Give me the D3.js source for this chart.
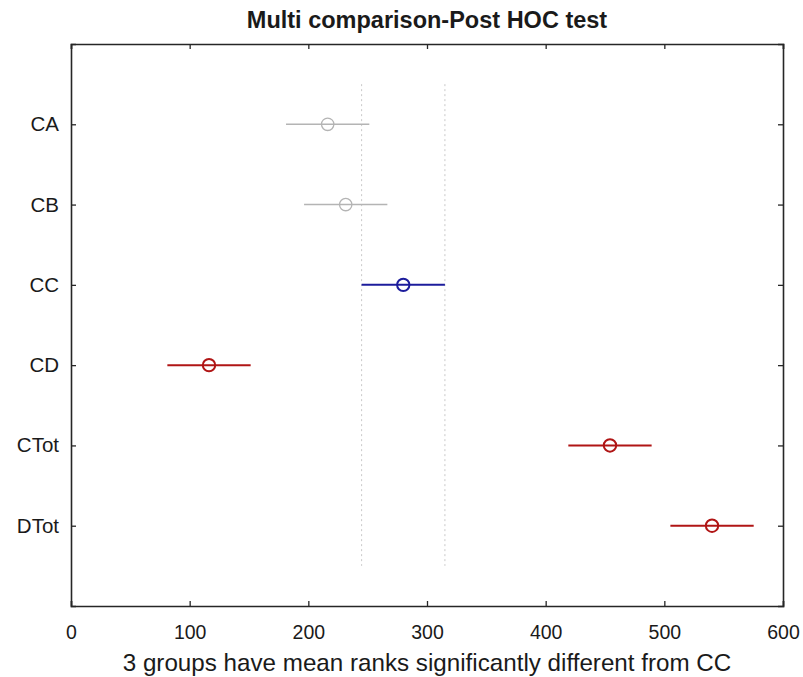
<!DOCTYPE html>
<html>
<head>
<meta charset="utf-8">
<script src="https://cdn.jsdelivr.net/npm/d3@7"></script>
<style>
  html, body { margin: 0; padding: 0; background: #fff; }
  svg text { font-family: "Liberation Sans", Arial, sans-serif; fill: #1a1a1a; }
</style>
</head>
<body>
<div id="chart"></div>
<script>
/* Multi comparison - post hoc test (mean ranks with comparison intervals) */

// groups, top to bottom
const groups   = ['CA', 'CB', 'CC', 'CD', 'CTot', 'DTot'];
// mean ranks
const means    = [216.3, 231.5, 280.0, 116.3, 454.2, 540.2];
// half width of each comparison interval
const halfWidths = [35.1, 35.1, 35.1, 35.1, 35.1, 35.1];
// status vs the selected group (CC)
const status   = ['same', 'same', 'selected', 'diff', 'diff', 'diff'];
const xTicks   = [0, 100, 200, 300, 400, 500, 600];

const COLORS = {
  same     : '#b4b4b4',
  selected : '#1c1c9c',
  diff     : '#b01515',
  axis     : '#262626',
  guide    : '#c8c8c8'
};

const W = 803, H = 677;
const margin = {top: 44, right: 20, bottom: 71, left: 71};
const width  = W - margin.left - margin.right;
const height = H - margin.top - margin.bottom;

const svg = d3.select('#chart').append('svg')
  .attr('width', W).attr('height', H);

const g = svg.append('g')
  .attr('transform', `translate(${margin.left},${margin.top})`);

const x = d3.scaleLinear().domain([0, 600]).range([0, width]);
// group i sits at value n - i, domain [0, n + 1]
const n = groups.length;
const y = d3.scaleLinear().domain([0, n + 1]).range([height, 0]);
const yPos = i => y(n - i);

// dashed guides = interval of the selected group
const sel = status.indexOf('selected');
[means[sel] - halfWidths[sel], means[sel] + halfWidths[sel]].forEach(v => {
  g.append('line')
    .attr('x1', x(v)).attr('x2', x(v))
    .attr('y1', y(n + 0.5)).attr('y2', y(0.5))
    .attr('stroke', COLORS.guide)
    .attr('stroke-width', 1)
    .attr('stroke-dasharray', '2,3');
});

// intervals + circles
const rows = groups.map((d, i) => ({
  name: d, mean: means[i], hw: halfWidths[i], status: status[i], i: i
}));

g.selectAll('.ci').data(rows).join('line')
  .attr('class', 'ci')
  .attr('x1', d => x(d.mean - d.hw)).attr('x2', d => x(d.mean + d.hw))
  .attr('y1', d => yPos(d.i)).attr('y2', d => yPos(d.i))
  .attr('stroke', d => COLORS[d.status])
  .attr('stroke-width', d => d.status === 'same' ? 1.5 : 2);

g.selectAll('.mk').data(rows).join('circle')
  .attr('class', 'mk')
  .attr('cx', d => x(d.mean)).attr('cy', d => yPos(d.i))
  .attr('r', 6.2)
  .attr('fill', 'none')
  .attr('stroke', d => COLORS[d.status])
  .attr('stroke-width', d => d.status === 'same' ? 1.3 : 2);

// axes: box with inward ticks on every side
const tickLen = 5;
g.append('g')
  .attr('transform', `translate(0,${height})`)
  .call(d3.axisBottom(x).tickValues(xTicks).tickSize(-tickLen).tickPadding(19))
  .call(a => a.selectAll('text').attr('font-size', 19.5));

g.append('g')
  .call(d3.axisTop(x).tickValues(xTicks).tickSize(-tickLen).tickFormat(''));

g.append('g')
  .call(d3.axisLeft(y).tickValues(d3.range(1, n + 1))
    .tickFormat(v => groups[n - v]).tickSize(-tickLen).tickPadding(12))
  .call(a => a.selectAll('text').attr('font-size', 20.5));

g.append('g')
  .attr('transform', `translate(${width},0)`)
  .call(d3.axisRight(y).tickValues(d3.range(1, n + 1)).tickSize(-tickLen).tickFormat(''));

g.selectAll('.domain').attr('stroke', COLORS.axis).attr('stroke-width', 1.6);
g.selectAll('.tick line').attr('stroke', COLORS.axis).attr('stroke-width', 1.3);

// title + x label
svg.append('text')
  .attr('x', margin.left + width / 2).attr('y', 28)
  .attr('text-anchor', 'middle')
  .attr('font-size', 23.5).attr('font-weight', 'bold')
  .text('Multi comparison-Post HOC test');

svg.append('text')
  .attr('x', margin.left + width / 2).attr('y', 671)
  .attr('text-anchor', 'middle')
  .attr('font-size', 24.2)
  .text('3 groups have mean ranks significantly different from CC');
</script>
</body>
</html>
